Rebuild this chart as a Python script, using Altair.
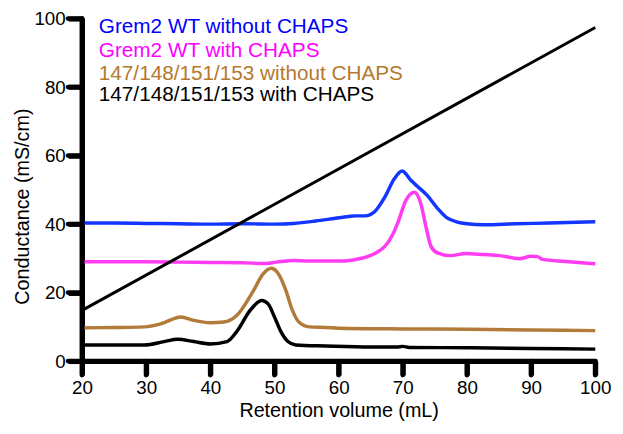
import altair as alt
import pandas as pd

# ---- data ----
series_names = [
    "Grem2 WT without CHAPS",
    "Grem2 WT with CHAPS",
    "147/148/151/153 without CHAPS",
    "147/148/151/153 with CHAPS",
]
line_colors = ["#1236ff", "#ff3cf4", "#b27b3a", "#000000"]
text_colors = ["#0000ff", "#ff00ff", "#b5782e", "#000000"]

x_ticks = [20, 30, 40, 50, 60, 70, 80, 90, 100]
y_ticks = [0, 20, 40, 60, 80, 100]

x_wt_no = [20, 25, 30, 35, 40, 45, 50, 53, 56.4, 59.5, 61.5, 62.6, 64.1, 65.6, 67.2, 68.7,
           69.9, 71.3, 72.3, 73.8, 75.4, 76.9, 78.5, 80, 82.6, 87.7, 92.8, 100]
y_wt_no = [40.3, 40.3, 40.2, 40.1, 40.0, 40.1, 40.0, 40.2, 40.9, 41.7, 42.2, 42.4, 42.4, 43.6,
           47.9, 53.3, 55.5, 52.7, 51.0, 48.4, 44.6, 41.8, 40.6, 40.1, 39.8, 40.1, 40.3, 40.7]

x_wt_ch = [20, 25, 30, 35, 40, 45, 48.7, 50.3, 53, 55.4, 60.5, 63, 64.6, 66, 67.2, 68.3, 69.2,
           70.5, 71.8, 72.8, 73.6, 74.4, 75.4, 77.4, 79.8, 82.6, 85.1, 88.2, 90, 91, 91.8, 95.4, 100]
y_wt_ch = [29.0, 29.0, 29.0, 28.9, 28.8, 28.7, 28.5, 28.9, 29.4, 29.2, 29.2, 29.8, 30.6, 31.8,
           33.5, 36.5, 40.3, 47.0, 49.3, 46.0, 39.3, 33.5, 31.6, 30.8, 31.4, 31.1, 30.8, 29.9,
           30.6, 30.5, 29.7, 29.1, 28.4]

x_mut_no = [20, 25, 29.75, 32.3, 35.4, 37.4, 40, 42.1, 44.1, 46.7, 48.2, 49.5, 50.8, 51.8,
            52.8, 53.8, 55.4, 58, 60, 70, 80, 90, 100]
y_mut_no = [9.7, 9.8, 10.0, 10.9, 12.9, 11.9, 11.2, 11.4, 13.3, 20.5, 25.4, 27.1, 24.9, 20.5,
            14.8, 11.4, 10.0, 9.8, 9.6, 9.4, 9.3, 9.1, 8.9]

x_mut_ch = [20, 25, 29.75, 32.8, 34.9, 37.4, 40, 42.6, 44.1, 46.2, 48, 49, 50, 51, 52.1,
            53.3, 58, 65, 69, 70, 71, 80, 90, 100]
y_mut_ch = [4.7, 4.7, 4.7, 5.7, 6.4, 5.7, 5.0, 5.7, 8.6, 14.8, 17.7, 16.7, 12.9, 8.6, 5.7,
            4.7, 4.4, 4.1, 4.1, 4.3, 4.0, 3.9, 3.7, 3.5]

x_cond = [20, 100]
y_cond = [14.8, 97.4]

xs = [x_wt_no, x_wt_ch, x_mut_no, x_mut_ch]
ys = [y_wt_no, y_wt_ch, y_mut_no, y_mut_ch]

rows = []
for name, xv, yv in zip(series_names, xs, ys):
    for a, b in zip(xv, yv):
        rows.append({"series": name, "volume": a, "value": b})
df = pd.DataFrame(rows)
df_cond = pd.DataFrame({"volume": x_cond, "value": y_cond})
df_legend = pd.DataFrame({"label": series_names})
df_xt = pd.DataFrame({"volume": x_ticks})
df_yt = pd.DataFrame({"value": y_ticks})

FONT = "Liberation Sans, Arial, Helvetica, sans-serif"
W, H = 520, 347
TICK = 14

axis_style = dict(
    grid=False,
    domainColor="black",
    domainWidth=5,
    tickColor="black",
    tickWidth=5,
    tickSize=TICK,
    labelFlush=False,
    labelFont=FONT,
    labelFontSize=19,
    labelColor="black",
    titleFont=FONT,
    titleFontSize=20,
    titleFontWeight="normal",
    titleColor="black",
    titleBaseline="middle",
)

x_scale = alt.Scale(domain=[20, 100], nice=False)
y_scale = alt.Scale(domain=[0, 100], nice=False)

x_enc = alt.X(
    "volume:Q", scale=x_scale,
    axis=alt.Axis(values=x_ticks, title="Retention volume (mL)",
                  titleY=50, labelPadding=4, **axis_style),
)
y_enc = alt.Y(
    "value:Q", scale=y_scale,
    axis=alt.Axis(values=y_ticks, title="Conductance (mS/cm)",
                  titleX=-60, titleY=190, labelPadding=3, **axis_style),
)

curves = alt.Chart(df).mark_line(strokeWidth=3.5, interpolate="monotone").encode(
    x=x_enc,
    y=y_enc,
    color=alt.Color("series:N", scale=alt.Scale(domain=series_names, range=line_colors),
                    legend=None),
    detail="series:N",
)

cond = alt.Chart(df_cond).mark_line(strokeWidth=3, color="black").encode(
    x=x_enc, y=y_enc
)

# bold axis lines and tick marks as rules (in case axis stroke styling is dropped)
y_domain = alt.Chart(df_legend.head(1)).mark_rule(
    strokeWidth=5, color="black", strokeCap="round"
).encode(x=alt.value(0), y=alt.value(0), y2=alt.value(H))
x_domain = alt.Chart(df_legend.head(1)).mark_rule(
    strokeWidth=5, color="black", strokeCap="round"
).encode(y=alt.value(H), x=alt.value(0), x2=alt.value(W))
x_tick_marks = alt.Chart(df_xt).mark_rule(
    strokeWidth=5, color="black", strokeCap="round"
).encode(x=alt.X("volume:Q", scale=x_scale), y=alt.value(H), y2=alt.value(H + TICK))
y_tick_marks = alt.Chart(df_yt).mark_rule(
    strokeWidth=5, color="black", strokeCap="round"
).encode(y=alt.Y("value:Q", scale=y_scale), x=alt.value(-TICK), x2=alt.value(0))

legend_y = [9, 33, 56, 77]
legend_layers = []
for name, c, yy in zip(series_names, text_colors, legend_y):
    legend_layers.append(
        alt.Chart(df_legend).transform_filter(alt.datum.label == name).mark_text(
            align="left", baseline="middle", fontSize=21, font=FONT, color=c
        ).encode(x=alt.value(17), y=alt.value(yy), text="label:N")
    )

chart = alt.layer(
    curves, cond, *legend_layers, y_domain, x_domain, x_tick_marks, y_tick_marks
).properties(
    width=W,
    height=H,
    autosize=alt.AutoSizeParams(type="none"),
    padding={"left": 75, "top": 8, "right": 20, "bottom": 63},
).configure_view(stroke=None)

chart.save("out.html", embed_options={"renderer": "svg", "actions": False})
